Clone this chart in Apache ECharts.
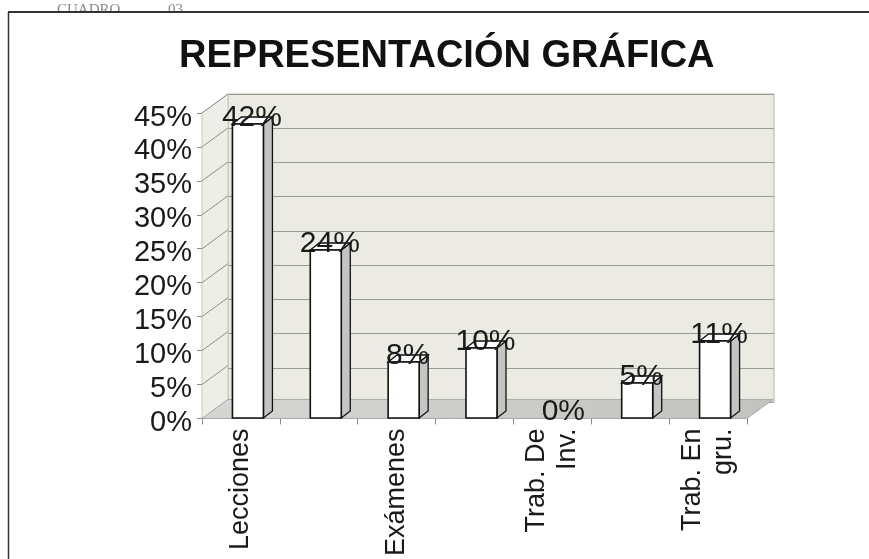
<!DOCTYPE html>
<html><head><meta charset="utf-8">
<script src="https://cdn.jsdelivr.net/npm/echarts@6/dist/echarts.min.js"></script>
<style>html,body{margin:0;padding:0;background:#fff}#c{width:869px;height:559px}</style>
</head><body><div id="c"></div>
<script>
// ---- data ----
const categories = ['Lecciones', '', 'Exámenes', '', 'Trab. De\nInv.', '', 'Trab. En\ngru.'];
const values = [0.42, 0.24, 0.08, 0.10, 0.00, 0.05, 0.11];
const yTickValues = [0, 0.05, 0.10, 0.15, 0.20, 0.25, 0.30, 0.35, 0.40, 0.45];
const titleText = 'REPRESENTACIÓN GRÁFICA';
const headerLeft = 'CUADRO';
const headerRight = '03';

const FONT = 'Liberation Sans, Arial, sans-serif';
const pct = v => Math.round(v * 100) + '%';
const DEPTH_X = 26, DEPTH_Y = -19;

const chart = echarts.init(document.getElementById('c'));
chart.setOption({
  animation: false,
  backgroundColor: '#fff',
  title: {
    text: titleText, left: 174, top: 33,
    textStyle: { fontSize: 38, fontWeight: 'bold', fontFamily: FONT, color: '#111' }
  },
  graphic: [
    { type: 'text', left: 57, top: 3, style: { text: headerLeft, fontSize: 15, fill: '#8a8a8a', fontFamily: 'Liberation Serif, serif' } },
    { type: 'text', left: 168, top: 3, style: { text: headerRight, fontSize: 15, fill: '#8a8a8a', fontFamily: 'Liberation Serif, serif' } },
    { type: 'rect', shape: { x: 9, y: 12, width: 860, height: 14 }, style: { fill: '#fff' } },
    { type: 'line', shape: { x1: 8, y1: 12, x2: 869, y2: 12 }, style: { stroke: '#333', lineWidth: 2 } },
    { type: 'line', shape: { x1: 8.5, y1: 12, x2: 8.5, y2: 559 }, style: { stroke: '#333', lineWidth: 1.5 } }
  ],
  grid: [
    // front plane (axes)
    { left: 202, right: 122, top: 113, bottom: 138 },
    // back wall
    { left: 228, right: 95, top: 94, bottom: 157, show: true, backgroundColor: '#ebebe3', borderColor: '#b8b8b0', borderWidth: 1 },
    // bar plane
    { left: 209, right: 115, top: 103, bottom: 141 }
  ],
  xAxis: [
    {
      gridIndex: 0, type: 'category', data: categories, boundaryGap: true,
      axisLine: { lineStyle: { color: '#888', width: 1 } },
      axisTick: { show: true, length: 6, lineStyle: { color: '#888' } },
      axisLabel: { interval: 0, rotate: 90, margin: 10, fontSize: 27, fontFamily: FONT, color: '#1a1a1a', lineHeight: 31 },
      splitLine: { show: false }
    },
    { gridIndex: 1, type: 'category', data: categories, show: false },
    { gridIndex: 2, type: 'category', data: categories, show: false }
  ],
  yAxis: [
    {
      gridIndex: 0, type: 'value', min: 0, max: 0.45, interval: 0.05,
      axisLine: { show: true, lineStyle: { color: '#888', width: 1 } },
      axisTick: { show: true, length: 5, lineStyle: { color: '#888' } },
      axisLabel: {
        formatter: v => '{p|' + pct(v) + '}', margin: 10,
        rich: { p: { fontSize: 29, fontFamily: FONT, color: '#1a1a1a', padding: [9, 0, 0, 0] } }
      },
      splitLine: { show: false }
    },
    {
      gridIndex: 1, type: 'value', min: 0, max: 0.45, interval: 0.05,
      axisLine: { show: false }, axisTick: { show: false }, axisLabel: { show: false },
      splitLine: { show: true, lineStyle: { color: '#9a9a94', width: 1 } }
    },
    { gridIndex: 2, type: 'value', min: 0, max: 0.45, show: false, splitLine: { show: false } }
  ],
  series: [
    {
      type: 'custom', xAxisIndex: 0, yAxisIndex: 0, z: 1, silent: true,
      data: [[0, 0]],
      renderItem(params, api) {
        const cs = params.coordSys;
        const x0 = cs.x, x1 = cs.x + cs.width, yt = cs.y, yb = cs.y + cs.height;
        const children = [];
        children.push({ type: 'polygon', shape: { points: [[x0, yt], [x0 + DEPTH_X, yt + DEPTH_Y], [x0 + DEPTH_X, yb + DEPTH_Y], [x0, yb]] },
          style: { fill: '#eeeee9', stroke: '#c8c8c2', lineWidth: 1 } });
        yTickValues.forEach(v => {
          if (v === 0) return;
          const y = api.coord([0, v])[1];
          children.push({ type: 'line', shape: { x1: x0, y1: y, x2: x0 + DEPTH_X, y2: y + DEPTH_Y }, style: { stroke: '#8f8f8a', lineWidth: 1 } });
        });
        children.push({ type: 'polygon', shape: { points: [[x0, yb], [x1, yb], [x1 + DEPTH_X, yb + DEPTH_Y], [x0 + DEPTH_X, yb + DEPTH_Y]] },
          style: { fill: new echarts.graphic.LinearGradient(0, 0, 1, 0, [{ offset: 0, color: '#d6d6d2' }, { offset: 1, color: '#c2c2be' }]), stroke: '#aaa', lineWidth: 1 } });
        return { type: 'group', children };
      }
    },
    {
      type: 'custom', xAxisIndex: 2, yAxisIndex: 2, z: 5, silent: true,
      data: values.map((v, i) => [i, v]),
      renderItem(params, api) {
        const i = api.value(0), v = api.value(1);
        const b = api.coord([i, 0]), t = api.coord([i, v]);
        const hw = 15.5, dx = 9, dy = -7, cx = b[0];
        const children = [];
        if (v > 0) {
          children.push({ type: 'polygon', shape: { points: [[cx + hw, t[1]], [cx + hw + dx, t[1] + dy], [cx + hw + dx, b[1] + dy], [cx + hw, b[1]]] },
            style: { fill: '#c4c4c2', stroke: '#111', lineWidth: 1.3 } });
          children.push({ type: 'polygon', shape: { points: [[cx - hw, t[1]], [cx - hw + dx, t[1] + dy], [cx + hw + dx, t[1] + dy], [cx + hw, t[1]]] },
            style: { fill: '#fff', stroke: '#111', lineWidth: 1.3 } });
          children.push({ type: 'rect', shape: { x: cx - hw, y: t[1], width: 2 * hw, height: b[1] - t[1] },
            style: { fill: '#fff', stroke: '#111', lineWidth: 1.6 } });
        }
        children.push({ type: 'text', x: cx + 4, y: t[1] - 6,
          style: { text: pct(v), fontSize: 30, fontFamily: FONT, fill: '#1a1a1a', align: 'center', verticalAlign: 'middle' } });
        return { type: 'group', children };
      }
    }
  ]
});
</script>
</body></html>
